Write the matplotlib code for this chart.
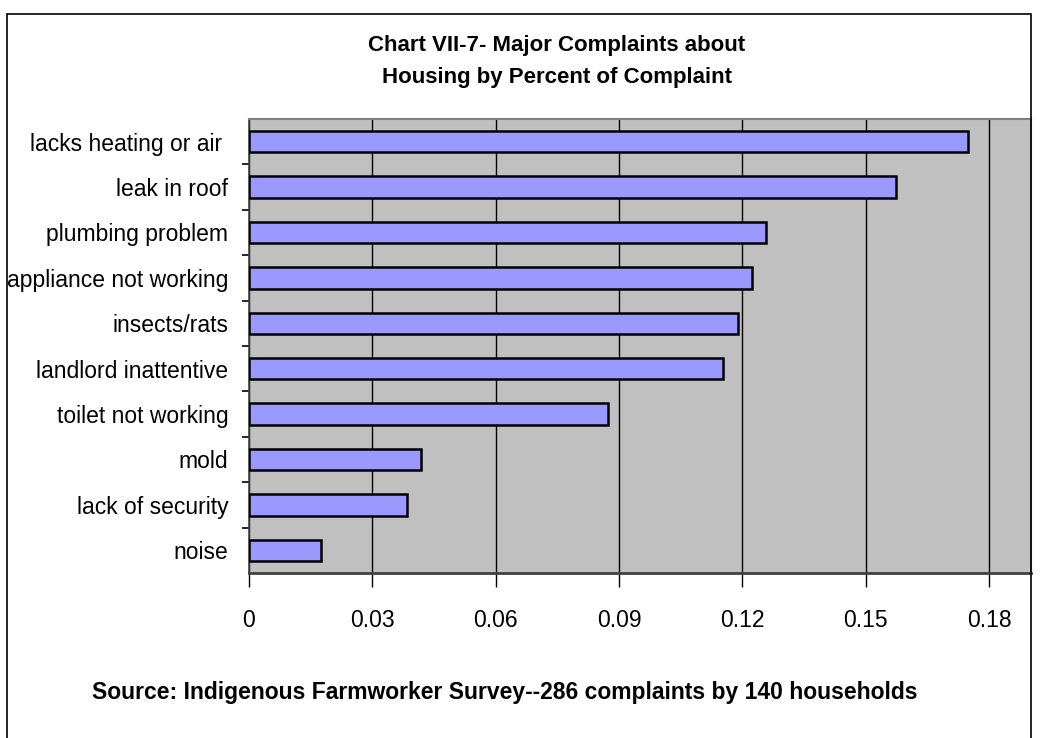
import matplotlib
matplotlib.use("Agg")
import matplotlib.pyplot as plt
from matplotlib.patches import Rectangle

# complaint counts out of 286 total complaints
categories = ["lacks heating or air ", "leak in roof", "plumbing problem",
              "appliance not working", "insects/rats", "landlord inattentive",
              "toilet not working", "mold", "lack of security", "noise"]
counts = [50, 45, 36, 35, 34, 33, 25, 12, 11, 5]
total = 286
shares = [c / total for c in counts]
xticks = [0, 0.03, 0.06, 0.09, 0.12, 0.15, 0.18]
xtick_labels = ["0", "0.03", "0.06", "0.09", "0.12", "0.15", "0.18"]

plt.rcParams['font.family'] = ['Liberation Sans', 'DejaVu Sans']

fig = plt.figure(figsize=(10.44, 7.38), dpi=100)
ax = fig.add_axes([249/1044, 1 - 573/738, (1031 - 249)/1044, (573 - 119)/738])

ypos = list(range(len(categories)))[::-1]
ax.set_facecolor('#C0C0C0')
ax.barh(ypos, shares, height=0.47, color='#9999FF', edgecolor='black', linewidth=1.8, zorder=3)

ax.set_xlim(0, 0.18 * 782 / 740)
ax.set_ylim(-0.5, len(categories) - 0.5)
ax.set_xticks(xticks)
ax.set_xticklabels(xtick_labels)
ax.xaxis.grid(True, color='black', linewidth=1.0, zorder=1)
ax.set_axisbelow(True)

ax.set_yticks(ypos)
ax.set_yticklabels(categories)
ax.set_yticks([y + 0.5 for y in range(len(categories) - 1)], minor=True)
ax.tick_params(axis='y', which='major', length=0, labelsize=16.5, pad=15)
ax.tick_params(axis='y', which='minor', length=5, width=1.2, direction='out')
ax.tick_params(axis='x', length=10, width=1.0, labelsize=16.5, pad=16)

for side in ['top', 'right']:
    ax.spines[side].set_color('#808080')
    ax.spines[side].set_linewidth(1.5)
ax.spines['bottom'].set_color('#404040')
ax.spines['bottom'].set_linewidth(2)
ax.spines['left'].set_color('#404040')
ax.spines['left'].set_linewidth(1.2)

fig.text(557/1044, 1 - 45/738, "Chart VII-7- Major Complaints about",
         ha='center', va='center', fontsize=16, fontweight='bold')
fig.text(557/1044, 1 - 77/738, "Housing by Percent of Complaint",
         ha='center', va='center', fontsize=16, fontweight='bold')
fig.text(505/1044, 1 - 693/738,
         "Source: Indigenous Farmworker Survey--286 complaints by 140 households",
         ha='center', va='center', fontsize=16.5, fontweight='bold')

# outer chart frame (cut off at the bottom)
fig.patches.append(Rectangle((7/1044, -0.1), (1031 - 7)/1044, 1.1 - 14/738,
                             transform=fig.transFigure, fill=False,
                             edgecolor='black', linewidth=1.2))

fig.savefig("out.png", dpi=100)
